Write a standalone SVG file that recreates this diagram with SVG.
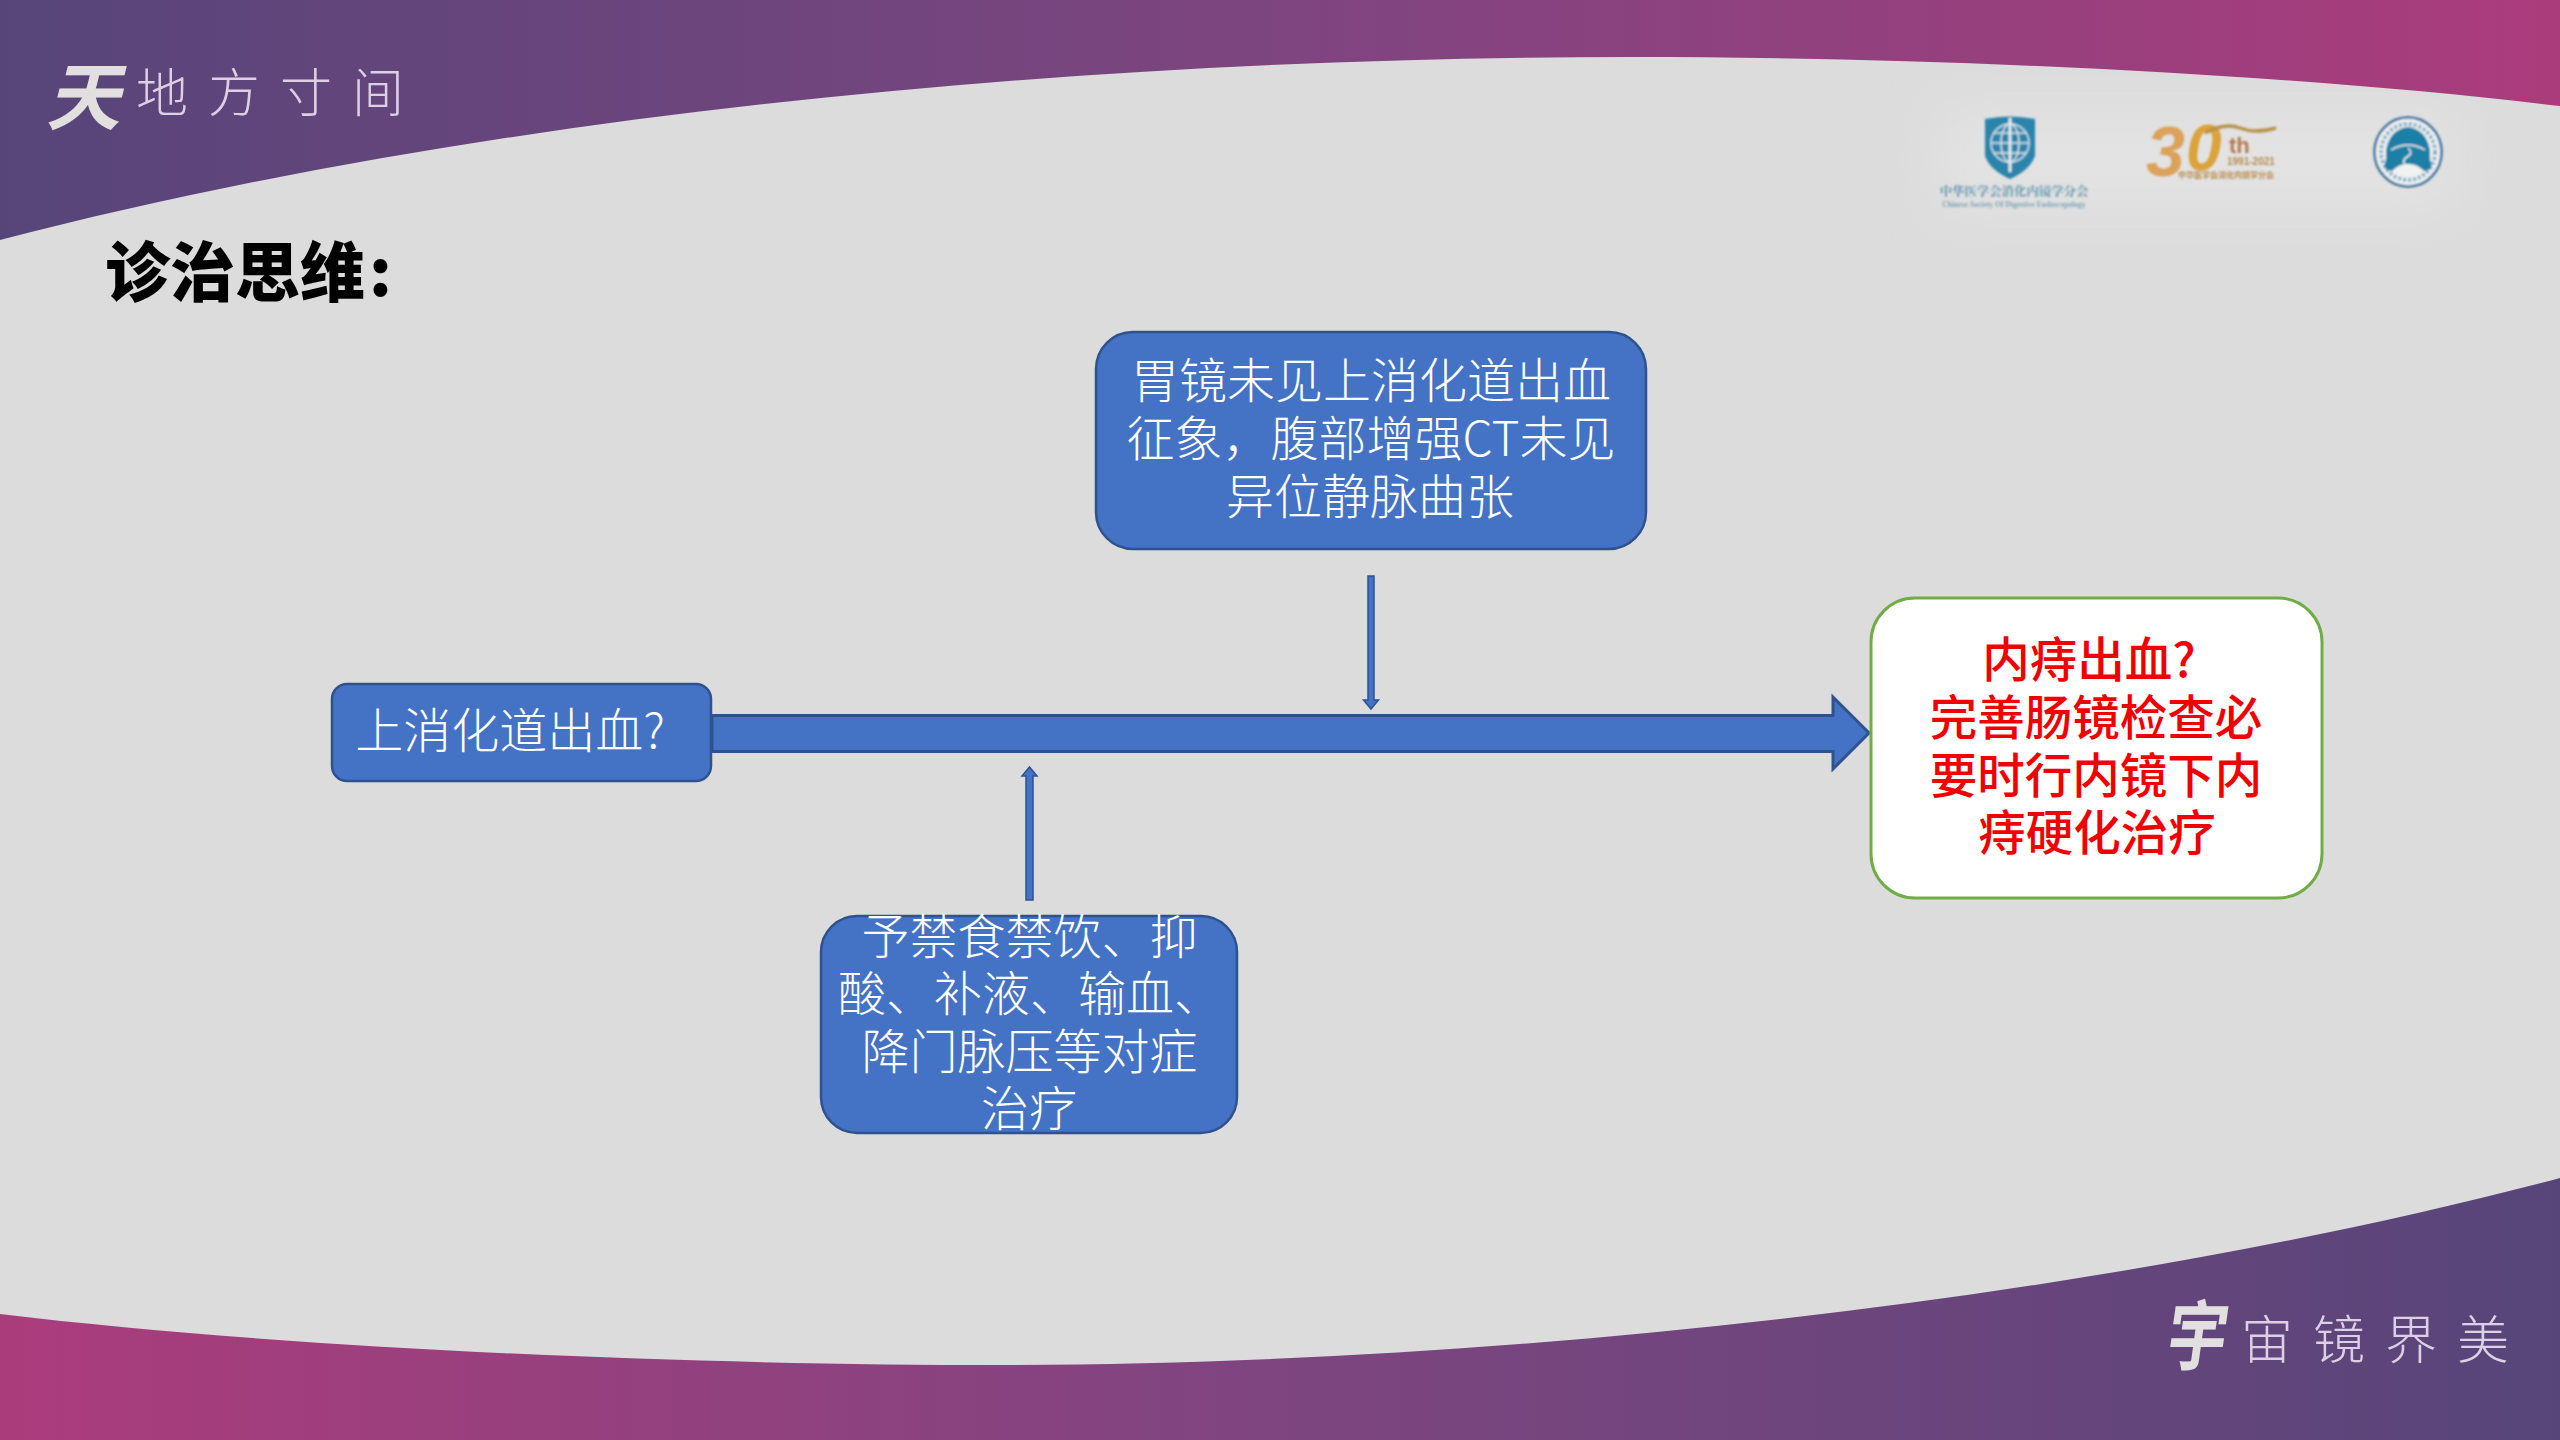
<svg xmlns="http://www.w3.org/2000/svg" width="2560" height="1440" viewBox="0 0 2560 1440">
<style>
text{font-family:"Noto Sans CJK SC","Noto Sans",sans-serif}
.box{fill:#4472C4;stroke:#2F528F;stroke-width:2.5}
.w{fill:#fff;font-size:48px;font-weight:300;text-anchor:middle}
.r{fill:#f00000;font-size:47.5px;font-weight:500;text-anchor:middle}
.wm{fill:#DDD0E4;font-size:52px;font-weight:300}
.cal{fill:#E2E0DE;font-weight:700}
.arrow{fill:#4472C4;stroke:#2F528F}
</style>
<defs>
<linearGradient id="gt" x1="0" y1="0" x2="1" y2="0"><stop offset="0" stop-color="#574579"/><stop offset=".5" stop-color="#7E4580"/><stop offset="1" stop-color="#AB3C7C"/></linearGradient>
<linearGradient id="gb" x1="0" y1="0" x2="1" y2="0"><stop offset="0" stop-color="#AB3C7C"/><stop offset=".5" stop-color="#7E4580"/><stop offset="1" stop-color="#574579"/></linearGradient>
<filter id="soft" x="-20%" y="-20%" width="140%" height="140%"><feGaussianBlur stdDeviation="0.8"/></filter>
<filter id="wide" x="-30%" y="-100%" width="160%" height="300%"><feGaussianBlur stdDeviation="25"/></filter>
</defs>
<rect id="bg" width="2560" height="1440" fill="#DCDCDC"/>
<rect x="1940" y="112" width="510" height="96" fill="#E3E3E3" filter="url(#wide)"/>
<path id="band-top" d="M0 0H2560V106C2300 75 1950 57 1630 57C1100 57 500 110 0 240Z" fill="url(#gt)"/>
<path id="band-bottom" d="M0 1440H2560V1178C2100 1300 1500 1365 1000 1365C700 1365 300 1350 0 1314Z" fill="url(#gb)"/>

<g id="brand-top">
<text class="cal" transform="translate(46 124) skewX(-14)" font-size="74">天</text>
<text class="wm" y="112"><tspan x="136">地</tspan><tspan x="208">方</tspan><tspan x="280">寸</tspan><tspan x="352">间</tspan></text>
</g>
<g id="brand-bottom">
<text class="cal" transform="translate(2164 1364) skewX(-8) scale(.86 1.1)" font-size="70">宇</text>
<text class="wm" y="1359"><tspan x="2241">宙</tspan><tspan x="2313">镜</tspan><tspan x="2385">界</tspan><tspan x="2457">美</tspan></text>
</g>

<text id="title" x="105" y="296" font-size="65" font-weight="900" fill="#000">诊治思维<tspan dx="4">:</tspan></text>

<g id="logo-society" filter="url(#soft)">
<path d="M1985 119Q2010 114 2035 119V156Q2030 170 2010 179Q1990 170 1985 156Z" fill="#2A84AC"/>
<g fill="none" stroke="#DDE8EC" stroke-width="1.4">
<circle cx="2010" cy="143" r="19"/><ellipse cx="2010" cy="143" rx="9" ry="19"/><path d="M1991 143H2029M1994 133H2026M1994 153H2026"/>
</g>
<path d="M2010 118V172" stroke="#E6EEF0" stroke-width="3"/>
<text x="2014" y="196" font-size="12.4" font-weight="700" fill="#5C93AC" text-anchor="middle" style="font-family:'Noto Serif CJK SC','Noto Sans CJK SC',serif">中华医学会消化内镜学分会</text>
<text x="2014" y="207" font-size="7.6" font-weight="700" fill="#7DA3B6" text-anchor="middle" style="font-family:'Liberation Serif',serif">Chinese Society Of Digestive Endoscopology</text>
</g>
<g id="logo-30th" filter="url(#soft)">
<text x="2146" y="176" font-size="70" font-weight="700" font-style="italic" fill="#DBA25A" style="font-family:'Liberation Sans',sans-serif">3</text>
<text x="2186" y="170" font-size="64" font-weight="700" font-style="italic" fill="#DCA23A" style="font-family:'Liberation Sans',sans-serif">0</text>
<path d="M2205 133Q2225 122 2240 128T2276 128" fill="none" stroke="#B8924A" stroke-width="3.5"/>
<text x="2229" y="153" font-size="22" font-weight="700" fill="#B5784C" style="font-family:'Liberation Sans',sans-serif">th</text>
<text x="2227" y="165" font-size="10" font-weight="700" fill="#B88A50" style="font-family:'Liberation Sans',sans-serif">1991-2021</text>
<text x="2178" y="178" font-size="8" font-weight="700" fill="#B88A50">中华医学会消化内镜学分会</text>
</g>
<g id="logo-round" filter="url(#soft)">
<ellipse cx="2408" cy="152" rx="33.5" ry="34.5" fill="#F0F2F2" stroke="#2A6D9C" stroke-width="2.5"/>
<ellipse cx="2408" cy="152" rx="27" ry="28" fill="none" stroke="#3F7FA6" stroke-width="4" stroke-dasharray="3 2" opacity=".6"/>
<path d="M2386 160V150Q2390 129 2408 127Q2426 129 2430 150V160Q2435 170 2424 171Q2416 163 2408 164Q2400 163 2392 171Q2381 170 2386 160Z" fill="#1F7FA5"/>
<path d="M2391 150Q2408 140 2425 150" fill="none" stroke="#EAF2F4" stroke-width="1.4"/>
<path d="M2408 148Q2414 153 2407 157T2408 168" fill="none" stroke="#EAF2F4" stroke-width="1.6"/>
</g>

<g id="connectors">
<path id="main-arrow" class="arrow" stroke-width="3" d="M712 715.500H1833V697L1869 733L1833 769V751.500H712Z"/>
<path id="arrow-down" class="arrow" stroke-width="1.5" d="M1368 576H1374V700H1378.500L1371 709L1363.500 700H1368Z"/>
<path id="arrow-up" class="arrow" stroke-width="1.5" d="M1026 900H1033V776H1037L1029.500 767L1022 776H1026Z"/>
</g>

<g id="node-upper-gi"><rect class="box" x="332" y="684" width="379" height="97" rx="15"/>
<text class="w" x="510" y="748">上消化道出血?</text></g>

<g id="node-endoscopy"><rect class="box" x="1096" y="332" width="550" height="217" rx="37"/>
<text class="w" x="1371" y="398">胃镜未见上消化道出血</text>
<text class="w" x="1371" y="456">征象，腹部增强CT未见</text>
<text class="w" x="1370" y="514">异位静脉曲张</text></g>

<g id="node-treatment"><rect class="box" x="821" y="916" width="416" height="217" rx="36"/>
<text class="w" x="1029.500" y="954">予禁食禁饮、抑</text>
<text class="w" x="1030" y="1011">酸、补液、输血、</text>
<text class="w" x="1029.500" y="1069">降门脉压等对症</text>
<text class="w" x="1029" y="1126">治疗</text></g>

<g id="node-result"><rect x="1871" y="598" width="451" height="300" rx="44" fill="#fff" stroke="#70AD47" stroke-width="3"/>
<text class="r" x="2089" y="677">内痔出血?</text>
<text class="r" x="2096" y="735">完善肠镜检查必</text>
<text class="r" x="2096" y="793">要时行内镜下内</text>
<text class="r" x="2097" y="850">痔硬化治疗</text></g>
</svg>
